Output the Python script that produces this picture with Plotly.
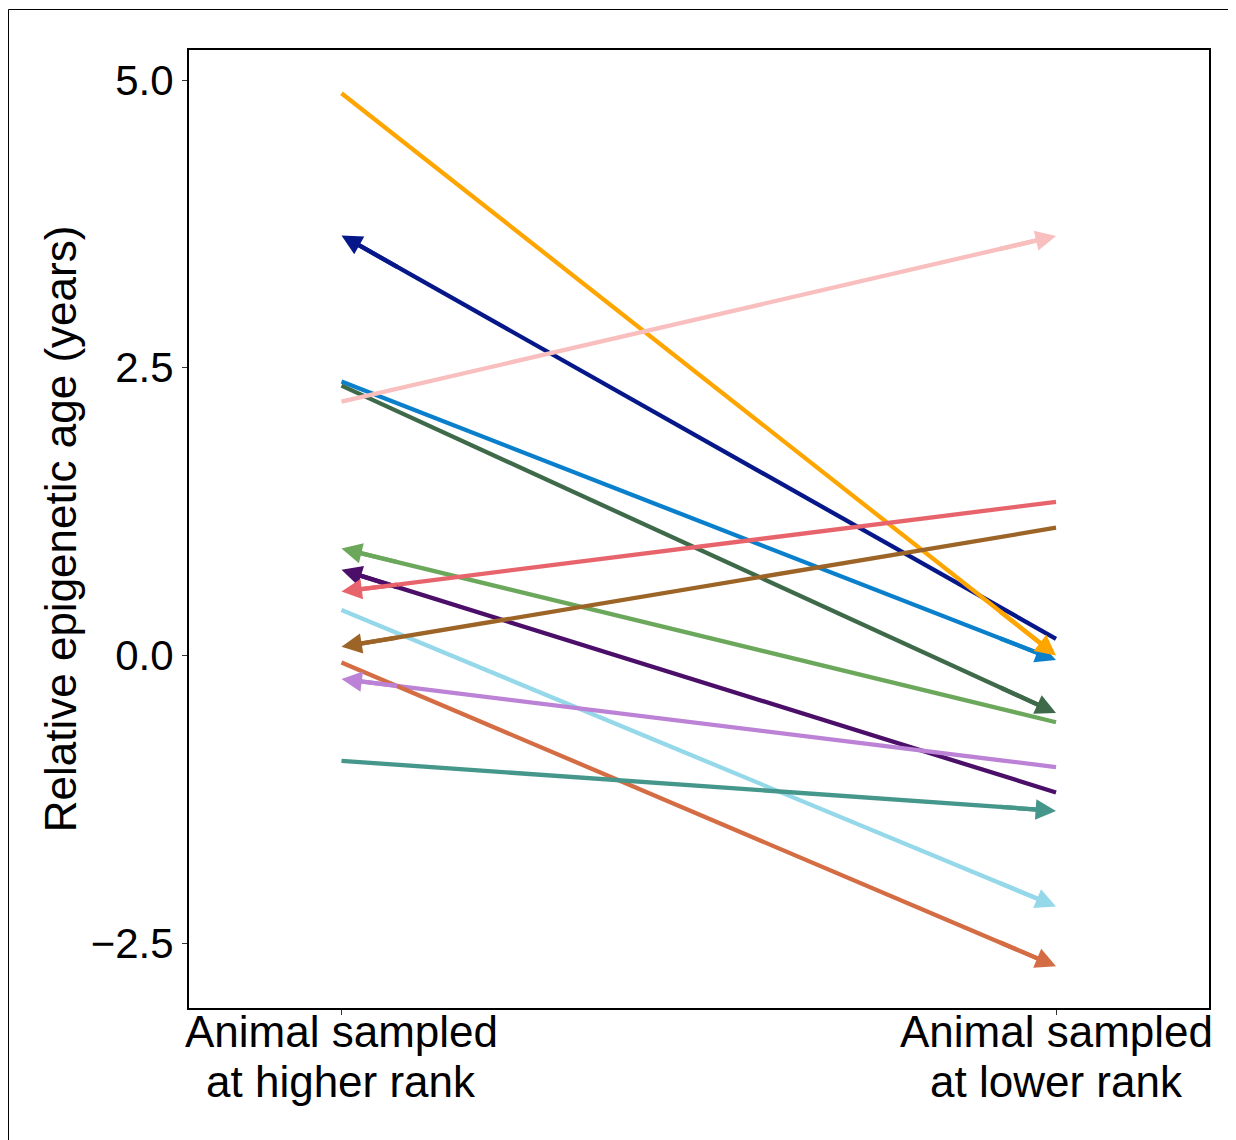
import plotly.graph_objects as go

# ---------------- data ----------------
categories = ["Animal sampled\nat higher rank", "Animal sampled\nat lower rank"]
cat_pos = [1, 2]

higher_rank = [3.65, 2.38, 2.345, 0.93, 0.745, 0.395, -0.205, -0.06, -0.915, 4.885, 2.205, 0.555, 0.075]
lower_rank = [0.145, -0.04, -0.50, -0.58, -1.19, -2.18, -0.97, -2.70, -1.35, 0.0, 3.645, 1.335, 1.11]
arrow_end = ["higher", "lower", "lower", "higher", "higher", "lower", "higher", "lower", "lower",
             "lower", "lower", "higher", "higher"]
colors = ["#061889", "#0A80CC", "#3E6A4A", "#6BA85C", "#4B0F69", "#94D8EA", "#BC82D6",
          "#D46D44", "#45978B", "#FFA500", "#F9BEBE", "#E8646C", "#9D6428"]

y_tickvals = [-2.5, 0.0, 2.5, 5.0]
y_ticktext = ["\u22122.5", "0.0", "2.5", "5.0"]
y_title = "Relative epigenetic age (years)"

FONT = "Liberation Sans, Arial, Helvetica, sans-serif"
# page has an 8px body margin, so the figure is 8px smaller than the window
W, H = 1228, 1132
ML, MR, MT, MB = 181, 27, 42, 132
PW, PH = W - ML - MR, H - MT - MB
LW = 4.3

fig = go.Figure()
annotations = []
for hi, lo, end, col in zip(higher_rank, lower_rank, arrow_end, colors):
    if end == "lower":
        x1, y1, x0, y0 = cat_pos[1], lo, cat_pos[0], hi
    else:
        x1, y1, x0, y0 = cat_pos[0], hi, cat_pos[1], lo
    # shaft: from the tail up to just under the arrowhead
    s = 0.012
    fig.add_trace(go.Scatter(x=[x0, x1 + (x0 - x1) * s], y=[y0, y1 + (y0 - y1) * s],
                             mode="lines", line=dict(color=col, width=LW),
                             hoverinfo="skip", showlegend=False))
    # arrowhead at the arrow end
    f = 0.08
    annotations.append(dict(
        x=x1, y=y1, ax=x1 + (x0 - x1) * f, ay=y1 + (y0 - y1) * f,
        xref="x", yref="y", axref="x", ayref="y", text="",
        showarrow=True, arrowhead=2, arrowsize=0.95, arrowwidth=LW,
        arrowcolor=col, standoff=0))

# category labels (two lines each)
line_baselines = [1040, 1090]  # figure-pixel baselines of the two text lines
ASC = 42
for xp, lab in zip(cat_pos, categories):
    for bl, txt in zip(line_baselines, lab.split("\n")):
        annotations.append(dict(
            x=xp, y=(H - MB - (bl - ASC)) / PH, xref="x", yref="paper", text=txt,
            showarrow=False, xanchor="center", yanchor="top", borderpad=0,
            font=dict(family=FONT, size=44, color="black")))

border_x = (0.5 - ML) / PW
border_y = (H - MB - 1.5) / PH

fig.update_layout(
    width=W, height=H,
    margin=dict(l=ML, r=MR, t=MT, b=MB, pad=0),
    paper_bgcolor="white", plot_bgcolor="white",
    annotations=annotations,
    font=dict(family=FONT, size=42, color="black"),
    shapes=[
        dict(type="line", xref="paper", yref="paper",
             x0=border_x, x1=border_x, y0=-0.3, y1=border_y,
             line=dict(color="black", width=1)),
        dict(type="line", xref="paper", yref="paper",
             x0=border_x, x1=1.2, y0=border_y, y1=border_y,
             line=dict(color="black", width=1)),
    ],
)

fig.update_xaxes(
    range=[0.7866, 2.2141], tickvals=cat_pos,
    ticktext=["", ""],
    showgrid=False, zeroline=False, showline=True, mirror=True,
    linecolor="black", linewidth=2, ticks="outside", ticklen=5,
    tickwidth=1, tickcolor="#333333")

fig.update_yaxes(
    range=[-3.0626, 5.2606], tickvals=y_tickvals, ticktext=y_ticktext,
    showgrid=False, zeroline=False, showline=True, mirror=True,
    linecolor="black", linewidth=2, ticks="outside", ticklen=5,
    tickwidth=1, tickcolor="#333333",
    tickfont=dict(family=FONT, size=42, color="black"),
    title=dict(text=y_title, standoff=0,
               font=dict(family=FONT, size=44, color="black")))

fig.write_html("out.html")
